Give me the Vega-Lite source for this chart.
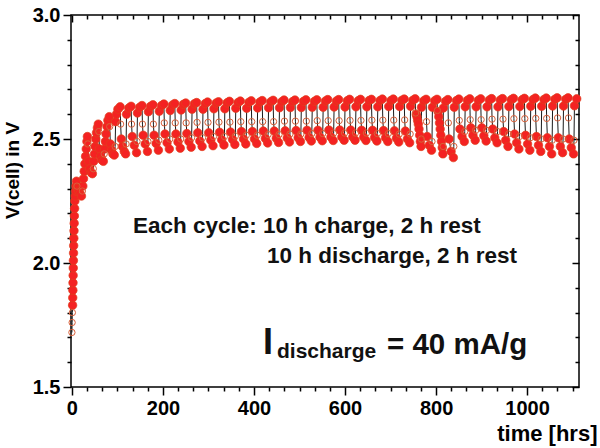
{
  "$schema": "https://vega.github.io/schema/vega-lite/v6.json",
  "width": 508,
  "height": 372,
  "autosize": {"type": "none"},
  "padding": {"left": 71, "top": 15, "right": 21, "bottom": 61},
  "background": "white",
  "config": {
    "view": {"stroke": "#000", "strokeWidth": 1.5},
    "font": "Liberation Sans",
    "axis": {
      "labelFont": "Liberation Sans",
      "labelFontWeight": "bold",
      "labelFontSize": 20,
      "labelColor": "#000",
      "titleFont": "Liberation Sans",
      "titleFontWeight": "bold",
      "titleColor": "#000",
      "tickColor": "#000",
      "tickWidth": 1.5,
      "domain": false,
      "grid": false,
      "labelFlush": false,
      "labelOverlap": false
    }
  },
  "data": {
    "values": [
      {"t":0,"v":1.72,"s":"r"},{"t":0.5,"v":1.76,"s":"r"},{"t":1,"v":1.8,"s":"r"},
      {"t":1.5,"v":1.83,"s":"c"},{"t":1.8,"v":1.86,"s":"c"},{"t":2.1,"v":1.89,"s":"c"},{"t":2.4,"v":1.92,"s":"c"},{"t":2.7,"v":1.95,"s":"c"},{"t":3,"v":1.98,"s":"c"},{"t":3.3,"v":2.01,"s":"c"},{"t":3.6,"v":2.04,"s":"c"},{"t":3.9,"v":2.07,"s":"c"},{"t":4.2,"v":2.1,"s":"c"},{"t":4.6,"v":2.13,"s":"c"},{"t":5,"v":2.16,"s":"c"},{"t":5.4,"v":2.19,"s":"c"},{"t":5.9,"v":2.22,"s":"c"},{"t":6.5,"v":2.25,"s":"c"},{"t":7.2,"v":2.27,"s":"c"},{"t":8,"v":2.29,"s":"c"},{"t":9,"v":2.31,"s":"c"},{"t":10,"v":2.33,"s":"c"},
      {"t":11,"v":2.31,"s":"r"},{"t":12.5,"v":2.3,"s":"d"},{"t":15,"v":2.29,"s":"d"},{"t":18,"v":2.28,"s":"d"},{"t":21,"v":2.27,"s":"d"},{"t":23,"v":2.29,"s":"r"},
      {"t":24,"v":2.31,"s":"c"},{"t":25.5,"v":2.34,"s":"c"},{"t":27,"v":2.37,"s":"c"},{"t":28.5,"v":2.4,"s":"c"},{"t":30,"v":2.43,"s":"c"},{"t":31.5,"v":2.46,"s":"c"},{"t":33,"v":2.49,"s":"c"},{"t":34,"v":2.51,"s":"c"},{"t":35,"v":2.48,"s":"r"},{"t":36.5,"v":2.41,"s":"d"},{"t":39,"v":2.38,"s":"d"},{"t":42,"v":2.365,"s":"d"},{"t":45,"v":2.36,"s":"d"},{"t":47,"v":2.38,"s":"r"},
      {"t":48,"v":2.41,"s":"c"},{"t":49.5,"v":2.44,"s":"c"},{"t":51,"v":2.47,"s":"c"},{"t":52.5,"v":2.5,"s":"c"},{"t":54,"v":2.525,"s":"c"},{"t":56,"v":2.545,"s":"c"},{"t":58,"v":2.56,"s":"c"},{"t":59,"v":2.53,"s":"r"},{"t":60.5,"v":2.46,"s":"d"},{"t":63,"v":2.43,"s":"d"},{"t":66,"v":2.415,"s":"d"},{"t":69,"v":2.41,"s":"d"},{"t":71,"v":2.44,"s":"r"},
      {"t":72,"v":2.46,"s":"c"},{"t":73.5,"v":2.49,"s":"c"},{"t":75,"v":2.52,"s":"c"},{"t":77,"v":2.55,"s":"c"},{"t":79,"v":2.575,"s":"c"},{"t":82,"v":2.59,"s":"c"},{"t":83,"v":2.55,"s":"r"},{"t":84.5,"v":2.48,"s":"d"},{"t":87,"v":2.455,"s":"d"},{"t":90,"v":2.44,"s":"d"},{"t":93,"v":2.435,"s":"d"},{"t":95,"v":2.47,"s":"r"},
      {"t":96,"v":2.57,"s":"c"},{"t":98,"v":2.6,"s":"c"},{"t":101,"v":2.62,"s":"c"},{"t":106,"v":2.63,"s":"c"},{"t":107,"v":2.56,"s":"r"},{"t":108.5,"v":2.5,"s":"d"},{"t":111,"v":2.47,"s":"d"},{"t":115,"v":2.45,"s":"d"},{"t":118,"v":2.44,"s":"d"},{"t":119,"v":2.48,"s":"r"},
      {"t":120,"v":2.6,"s":"c"},{"t":125,"v":2.625,"s":"c"},{"t":130,"v":2.632,"s":"c"},{"t":131,"v":2.56,"s":"r"},{"t":132.5,"v":2.51,"s":"d"},{"t":137,"v":2.475,"s":"d"},{"t":142,"v":2.445,"s":"d"},{"t":143,"v":2.49,"s":"r"},
      {"t":144,"v":2.605,"s":"c"},{"t":149,"v":2.628,"s":"c"},{"t":154,"v":2.635,"s":"c"},{"t":155,"v":2.56,"s":"r"},{"t":156.5,"v":2.515,"s":"d"},{"t":161,"v":2.48,"s":"d"},{"t":166,"v":2.45,"s":"d"},{"t":167,"v":2.49,"s":"r"},
      {"t":168,"v":2.61,"s":"c"},{"t":173,"v":2.632,"s":"c"},{"t":178,"v":2.638,"s":"c"},{"t":179,"v":2.56,"s":"r"},{"t":180.5,"v":2.515,"s":"d"},{"t":185,"v":2.482,"s":"d"},{"t":190,"v":2.455,"s":"d"},{"t":191,"v":2.495,"s":"r"},
      {"t":192,"v":2.612,"s":"c"},{"t":197,"v":2.635,"s":"c"},{"t":202,"v":2.641,"s":"c"},{"t":203,"v":2.565,"s":"r"},{"t":204.5,"v":2.52,"s":"d"},{"t":209,"v":2.485,"s":"d"},{"t":214,"v":2.46,"s":"d"},{"t":215,"v":2.5,"s":"r"},
      {"t":216,"v":2.615,"s":"c"},{"t":221,"v":2.637,"s":"c"},{"t":226,"v":2.643,"s":"c"},{"t":227,"v":2.565,"s":"r"},{"t":228.5,"v":2.52,"s":"d"},{"t":233,"v":2.488,"s":"d"},{"t":238,"v":2.463,"s":"d"},{"t":239,"v":2.5,"s":"r"},
      {"t":240,"v":2.617,"s":"c"},{"t":245,"v":2.64,"s":"c"},{"t":250,"v":2.645,"s":"c"},{"t":251,"v":2.565,"s":"r"},{"t":252.5,"v":2.522,"s":"d"},{"t":257,"v":2.49,"s":"d"},{"t":262,"v":2.467,"s":"d"},{"t":263,"v":2.505,"s":"r"},
      {"t":264,"v":2.62,"s":"c"},{"t":269,"v":2.642,"s":"c"},{"t":274,"v":2.647,"s":"c"},{"t":275,"v":2.567,"s":"r"},{"t":276.5,"v":2.525,"s":"d"},{"t":281,"v":2.492,"s":"d"},{"t":286,"v":2.47,"s":"d"},{"t":287,"v":2.505,"s":"r"},
      {"t":288,"v":2.62,"s":"c"},{"t":293,"v":2.643,"s":"c"},{"t":298,"v":2.649,"s":"c"},{"t":299,"v":2.567,"s":"r"},{"t":300.5,"v":2.525,"s":"d"},{"t":305,"v":2.495,"s":"d"},{"t":310,"v":2.473,"s":"d"},{"t":311,"v":2.51,"s":"r"},
      {"t":312,"v":2.622,"s":"c"},{"t":317,"v":2.645,"s":"c"},{"t":322,"v":2.65,"s":"c"},{"t":323,"v":2.568,"s":"r"},{"t":324.5,"v":2.527,"s":"d"},{"t":329,"v":2.497,"s":"d"},{"t":334,"v":2.476,"s":"d"},{"t":335,"v":2.51,"s":"r"},
      {"t":336,"v":2.622,"s":"c"},{"t":341,"v":2.646,"s":"c"},{"t":346,"v":2.652,"s":"c"},{"t":347,"v":2.568,"s":"r"},{"t":348.5,"v":2.528,"s":"d"},{"t":353,"v":2.498,"s":"d"},{"t":358,"v":2.478,"s":"d"},{"t":359,"v":2.512,"s":"r"},
      {"t":360,"v":2.624,"s":"c"},{"t":365,"v":2.647,"s":"c"},{"t":370,"v":2.653,"s":"c"},{"t":371,"v":2.57,"s":"r"},{"t":372.5,"v":2.53,"s":"d"},{"t":377,"v":2.5,"s":"d"},{"t":382,"v":2.48,"s":"d"},{"t":383,"v":2.515,"s":"r"},
      {"t":384,"v":2.624,"s":"c"},{"t":389,"v":2.648,"s":"c"},{"t":394,"v":2.654,"s":"c"},{"t":395,"v":2.57,"s":"r"},{"t":396.5,"v":2.53,"s":"d"},{"t":401,"v":2.5,"s":"d"},{"t":406,"v":2.482,"s":"d"},{"t":407,"v":2.515,"s":"r"},
      {"t":408,"v":2.625,"s":"c"},{"t":413,"v":2.649,"s":"c"},{"t":418,"v":2.655,"s":"c"},{"t":419,"v":2.57,"s":"r"},{"t":420.5,"v":2.532,"s":"d"},{"t":425,"v":2.502,"s":"d"},{"t":430,"v":2.484,"s":"d"},{"t":431,"v":2.518,"s":"r"},
      {"t":432,"v":2.626,"s":"c"},{"t":437,"v":2.65,"s":"c"},{"t":442,"v":2.656,"s":"c"},{"t":443,"v":2.57,"s":"r"},{"t":444.5,"v":2.532,"s":"d"},{"t":449,"v":2.503,"s":"d"},{"t":454,"v":2.486,"s":"d"},{"t":455,"v":2.518,"s":"r"},
      {"t":456,"v":2.626,"s":"c"},{"t":461,"v":2.65,"s":"c"},{"t":466,"v":2.657,"s":"c"},{"t":467,"v":2.572,"s":"r"},{"t":468.5,"v":2.533,"s":"d"},{"t":473,"v":2.504,"s":"d"},{"t":478,"v":2.488,"s":"d"},{"t":479,"v":2.52,"s":"r"},
      {"t":480,"v":2.627,"s":"c"},{"t":485,"v":2.651,"s":"c"},{"t":490,"v":2.657,"s":"c"},{"t":491,"v":2.572,"s":"r"},{"t":492.5,"v":2.534,"s":"d"},{"t":497,"v":2.505,"s":"d"},{"t":502,"v":2.49,"s":"d"},{"t":503,"v":2.52,"s":"r"},
      {"t":504,"v":2.627,"s":"c"},{"t":509,"v":2.652,"s":"c"},{"t":514,"v":2.658,"s":"c"},{"t":515,"v":2.572,"s":"r"},{"t":516.5,"v":2.535,"s":"d"},{"t":521,"v":2.506,"s":"d"},{"t":526,"v":2.492,"s":"d"},{"t":527,"v":2.522,"s":"r"},
      {"t":528,"v":2.628,"s":"c"},{"t":533,"v":2.652,"s":"c"},{"t":538,"v":2.658,"s":"c"},{"t":539,"v":2.574,"s":"r"},{"t":540.5,"v":2.535,"s":"d"},{"t":545,"v":2.507,"s":"d"},{"t":550,"v":2.493,"s":"d"},{"t":551,"v":2.522,"s":"r"},
      {"t":552,"v":2.628,"s":"c"},{"t":557,"v":2.653,"s":"c"},{"t":562,"v":2.659,"s":"c"},{"t":563,"v":2.574,"s":"r"},{"t":564.5,"v":2.536,"s":"d"},{"t":569,"v":2.508,"s":"d"},{"t":574,"v":2.494,"s":"d"},{"t":575,"v":2.524,"s":"r"},
      {"t":576,"v":2.629,"s":"c"},{"t":581,"v":2.653,"s":"c"},{"t":586,"v":2.659,"s":"c"},{"t":587,"v":2.574,"s":"r"},{"t":588.5,"v":2.536,"s":"d"},{"t":593,"v":2.508,"s":"d"},{"t":598,"v":2.495,"s":"d"},{"t":599,"v":2.524,"s":"r"},
      {"t":600,"v":2.629,"s":"c"},{"t":605,"v":2.654,"s":"c"},{"t":610,"v":2.66,"s":"c"},{"t":611,"v":2.575,"s":"r"},{"t":612.5,"v":2.536,"s":"d"},{"t":617,"v":2.508,"s":"d"},{"t":622,"v":2.495,"s":"d"},{"t":623,"v":2.524,"s":"r"},
      {"t":624,"v":2.63,"s":"c"},{"t":629,"v":2.654,"s":"c"},{"t":634,"v":2.66,"s":"c"},{"t":635,"v":2.575,"s":"r"},{"t":636.5,"v":2.535,"s":"d"},{"t":641,"v":2.507,"s":"d"},{"t":646,"v":2.494,"s":"d"},{"t":647,"v":2.524,"s":"r"},
      {"t":648,"v":2.63,"s":"c"},{"t":653,"v":2.655,"s":"c"},{"t":658,"v":2.66,"s":"c"},{"t":659,"v":2.576,"s":"r"},{"t":660.5,"v":2.535,"s":"d"},{"t":665,"v":2.506,"s":"d"},{"t":670,"v":2.492,"s":"d"},{"t":671,"v":2.522,"s":"r"},
      {"t":672,"v":2.63,"s":"c"},{"t":677,"v":2.655,"s":"c"},{"t":682,"v":2.661,"s":"c"},{"t":683,"v":2.576,"s":"r"},{"t":684.5,"v":2.534,"s":"d"},{"t":689,"v":2.505,"s":"d"},{"t":694,"v":2.49,"s":"d"},{"t":695,"v":2.522,"s":"r"},
      {"t":696,"v":2.631,"s":"c"},{"t":701,"v":2.655,"s":"c"},{"t":706,"v":2.661,"s":"c"},{"t":707,"v":2.576,"s":"r"},{"t":708.5,"v":2.533,"s":"d"},{"t":713,"v":2.503,"s":"d"},{"t":718,"v":2.488,"s":"d"},{"t":719,"v":2.52,"s":"r"},
      {"t":720,"v":2.631,"s":"c"},{"t":725,"v":2.656,"s":"c"},{"t":730,"v":2.661,"s":"c"},{"t":731,"v":2.577,"s":"r"},{"t":732.5,"v":2.532,"s":"d"},{"t":737,"v":2.5,"s":"d"},{"t":742,"v":2.485,"s":"d"},{"t":743,"v":2.52,"s":"r"},
      {"t":744,"v":2.632,"s":"c"},{"t":749,"v":2.656,"s":"c"},{"t":754,"v":2.662,"s":"c"},{"t":755,"v":2.605,"s":"r"},{"t":756.5,"v":2.6,"s":"d"},{"t":758,"v":2.59,"s":"d"},{"t":759.5,"v":2.575,"s":"d"},{"t":761,"v":2.56,"s":"d"},{"t":762.5,"v":2.54,"s":"d"},{"t":764,"v":2.515,"s":"d"},{"t":765.5,"v":2.49,"s":"d"},{"t":767,"v":2.47,"s":"d"},{"t":767.5,"v":2.5,"s":"r"},
      {"t":768,"v":2.628,"s":"c"},{"t":773,"v":2.654,"s":"c"},{"t":778,"v":2.66,"s":"c"},{"t":779,"v":2.57,"s":"r"},{"t":780.5,"v":2.51,"s":"d"},{"t":785,"v":2.475,"s":"d"},{"t":790,"v":2.455,"s":"d"},{"t":791,"v":2.49,"s":"r"},
      {"t":792,"v":2.628,"s":"c"},{"t":797,"v":2.654,"s":"c"},{"t":802,"v":2.66,"s":"c"},{"t":803,"v":2.615,"s":"r"},{"t":804.5,"v":2.61,"s":"d"},{"t":806,"v":2.59,"s":"d"},{"t":807.5,"v":2.565,"s":"d"},{"t":809,"v":2.54,"s":"d"},{"t":810.5,"v":2.515,"s":"d"},{"t":812,"v":2.49,"s":"d"},{"t":813.5,"v":2.465,"s":"d"},{"t":815,"v":2.44,"s":"d"},{"t":815.5,"v":2.47,"s":"r"},
      {"t":816,"v":2.625,"s":"c"},{"t":821,"v":2.652,"s":"c"},{"t":826,"v":2.659,"s":"c"},{"t":827,"v":2.565,"s":"r"},{"t":828.5,"v":2.5,"s":"d"},{"t":833,"v":2.45,"s":"d"},{"t":838,"v":2.425,"s":"d"},{"t":839,"v":2.47,"s":"r"},
      {"t":840,"v":2.628,"s":"c"},{"t":845,"v":2.655,"s":"c"},{"t":850,"v":2.661,"s":"c"},{"t":851,"v":2.575,"s":"r"},{"t":852.5,"v":2.54,"s":"d"},{"t":857,"v":2.51,"s":"d"},{"t":862,"v":2.49,"s":"d"},{"t":863,"v":2.53,"s":"r"},
      {"t":864,"v":2.63,"s":"c"},{"t":869,"v":2.656,"s":"c"},{"t":874,"v":2.662,"s":"c"},{"t":875,"v":2.578,"s":"r"},{"t":876.5,"v":2.545,"s":"d"},{"t":881,"v":2.515,"s":"d"},{"t":886,"v":2.495,"s":"d"},{"t":887,"v":2.535,"s":"r"},
      {"t":888,"v":2.63,"s":"c"},{"t":893,"v":2.656,"s":"c"},{"t":898,"v":2.662,"s":"c"},{"t":899,"v":2.578,"s":"r"},{"t":900.5,"v":2.545,"s":"d"},{"t":905,"v":2.513,"s":"d"},{"t":910,"v":2.492,"s":"d"},{"t":911,"v":2.535,"s":"r"},
      {"t":912,"v":2.63,"s":"c"},{"t":917,"v":2.657,"s":"c"},{"t":922,"v":2.663,"s":"c"},{"t":923,"v":2.58,"s":"r"},{"t":924.5,"v":2.54,"s":"d"},{"t":929,"v":2.505,"s":"d"},{"t":934,"v":2.485,"s":"d"},{"t":935,"v":2.53,"s":"r"},
      {"t":936,"v":2.63,"s":"c"},{"t":941,"v":2.657,"s":"c"},{"t":946,"v":2.663,"s":"c"},{"t":947,"v":2.58,"s":"r"},{"t":948.5,"v":2.53,"s":"d"},{"t":953,"v":2.495,"s":"d"},{"t":958,"v":2.47,"s":"d"},{"t":959,"v":2.52,"s":"r"},
      {"t":960,"v":2.631,"s":"c"},{"t":965,"v":2.658,"s":"c"},{"t":970,"v":2.664,"s":"c"},{"t":971,"v":2.582,"s":"r"},{"t":972.5,"v":2.52,"s":"d"},{"t":977,"v":2.485,"s":"d"},{"t":982,"v":2.46,"s":"d"},{"t":983,"v":2.51,"s":"r"},
      {"t":984,"v":2.631,"s":"c"},{"t":989,"v":2.658,"s":"c"},{"t":994,"v":2.664,"s":"c"},{"t":995,"v":2.582,"s":"r"},{"t":996.5,"v":2.515,"s":"d"},{"t":1001,"v":2.48,"s":"d"},{"t":1006,"v":2.455,"s":"d"},{"t":1007,"v":2.505,"s":"r"},
      {"t":1008,"v":2.632,"s":"c"},{"t":1013,"v":2.659,"s":"c"},{"t":1018,"v":2.665,"s":"c"},{"t":1019,"v":2.583,"s":"r"},{"t":1020.5,"v":2.51,"s":"d"},{"t":1025,"v":2.475,"s":"d"},{"t":1030,"v":2.45,"s":"d"},{"t":1031,"v":2.5,"s":"r"},
      {"t":1032,"v":2.632,"s":"c"},{"t":1037,"v":2.659,"s":"c"},{"t":1042,"v":2.665,"s":"c"},{"t":1043,"v":2.583,"s":"r"},{"t":1044.5,"v":2.505,"s":"d"},{"t":1049,"v":2.47,"s":"d"},{"t":1054,"v":2.44,"s":"d"},{"t":1055,"v":2.495,"s":"r"},
      {"t":1056,"v":2.633,"s":"c"},{"t":1061,"v":2.66,"s":"c"},{"t":1066,"v":2.666,"s":"c"},{"t":1067,"v":2.585,"s":"r"},{"t":1068.5,"v":2.505,"s":"d"},{"t":1073,"v":2.47,"s":"d"},{"t":1078,"v":2.445,"s":"d"},{"t":1079,"v":2.5,"s":"r"},
      {"t":1080,"v":2.633,"s":"c"},{"t":1085,"v":2.66,"s":"c"},{"t":1090,"v":2.666,"s":"c"},{"t":1091,"v":2.585,"s":"r"},{"t":1092.5,"v":2.5,"s":"d"},{"t":1097,"v":2.465,"s":"d"},{"t":1102,"v":2.44,"s":"d"},{"t":1103,"v":2.495,"s":"r"},
      {"t":1104,"v":2.634,"s":"c"},{"t":1109,"v":2.662,"s":"c"}
    ]
  },
  "layer": [
    {
      "mark": {"type": "line", "color": "#1a1a1a", "strokeWidth": 1},
      "encoding": {
        "x": {
          "field": "t",
          "type": "quantitative",
          "scale": {"domain": [-2, 1114], "nice": false, "zero": false},
          "axis": {
            "orient": "bottom",
            "values": [0,33.33,66.67,100,133.33,166.67,200,233.33,266.67,300,333.33,366.67,400,433.33,466.67,500,533.33,566.67,600,633.33,666.67,700,733.33,766.67,800,833.33,866.67,900,933.33,966.67,1000,1033.33,1066.67,1100],
            "format": "d",
            "labelExpr": "datum.value % 200 === 0 ? datum.label : ''",
            "tickSize": {"condition": {"test": "datum.value % 200 === 0", "value": 8}, "value": 4},
            "labelPadding": 3,
            "title": "time [hrs]",
            "titleFontSize": 22,
            "titleAnchor": "end",
            "titleAlign": "right",
            "titleBaseline": "alphabetic",
            "titleX": 526,
            "titleY": 53
          }
        },
        "y": {
          "field": "v",
          "type": "quantitative",
          "scale": {"domain": [1.5, 3.0], "nice": false, "zero": false},
          "axis": {
            "orient": "left",
            "values": [1.5,1.6,1.7,1.8,1.9,2.0,2.1,2.2,2.3,2.4,2.5,2.6,2.7,2.8,2.9,3.0],
            "labelExpr": "abs(datum.value*2 - round(datum.value*2)) < 0.01 ? format(datum.value, '.1f') : ''",
            "tickSize": {"condition": {"test": "abs(datum.value*2 - round(datum.value*2)) < 0.01", "value": 8}, "value": 4},
            "labelPadding": 3,
            "title": "V(cell) in V",
            "titleFontSize": 19,
            "titleFontWeight": "bold",
            "titleAngle": -90,
            "titleAlign": "center",
            "titleBaseline": "alphabetic",
            "titleX": -53,
            "titleY": 155
          }
        }
      }
    },
    {
      "transform": [{"filter": "datum.s !== 'r'"}],
      "mark": {"type": "point", "shape": "circle", "filled": true, "fill": "#f42222", "stroke": "#e0401e", "strokeWidth": 0.7, "opacity": 1, "size": 72},
      "encoding": {
        "x": {
          "field": "t",
          "type": "quantitative",
          "axis": {
            "orient": "top",
            "values": [0,33.33,66.67,100,133.33,166.67,200,233.33,266.67,300,333.33,366.67,400,433.33,466.67,500,533.33,566.67,600,633.33,666.67,700,733.33,766.67,800,833.33,866.67,900,933.33,966.67,1000,1033.33,1066.67,1100],
            "labels": false,
            "title": null,
            "tickSize": {"condition": {"test": "datum.value % 200 === 0", "value": -7}, "value": -4}
          }
        },
        "y": {
          "field": "v",
          "type": "quantitative",
          "axis": {
            "orient": "right",
            "values": [1.5,1.6,1.7,1.8,1.9,2.0,2.1,2.2,2.3,2.4,2.5,2.6,2.7,2.8,2.9,3.0],
            "labels": false,
            "title": null,
            "tickSize": {"condition": {"test": "abs(datum.value*2 - round(datum.value*2)) < 0.01", "value": -7}, "value": -4}
          }
        }
      }
    },
    {
      "transform": [{"filter": "datum.s === 'r'"}],
      "mark": {"type": "point", "shape": "circle", "filled": false, "stroke": "#d8603a", "strokeWidth": 1, "opacity": 1, "size": 40},
      "encoding": {
        "x": {"field": "t", "type": "quantitative", "axis": null},
        "y": {"field": "v", "type": "quantitative", "axis": null}
      }
    },
    {
      "data": {"values": [{}]},
      "mark": {"type": "text", "align": "left", "baseline": "alphabetic", "font": "Liberation Sans", "fontWeight": "bold", "fontSize": 22.5, "color": "#111"},
      "encoding": {
        "x": {"datum": 134.2, "type": "quantitative", "axis": null},
        "y": {"datum": 2.121, "type": "quantitative", "axis": null},
        "text": {"value": "Each cycle: 10 h charge, 2 h rest"}
      }
    },
    {
      "data": {"values": [{}]},
      "mark": {"type": "text", "align": "left", "baseline": "alphabetic", "font": "Liberation Sans", "fontWeight": "bold", "fontSize": 22.5, "color": "#111"},
      "encoding": {
        "x": {"datum": 428.6, "type": "quantitative", "axis": null},
        "y": {"datum": 2.0, "type": "quantitative", "axis": null},
        "text": {"value": "10 h discharge, 2 h rest"}
      }
    },
    {
      "data": {"values": [{}]},
      "mark": {"type": "text", "align": "left", "baseline": "alphabetic", "font": "Liberation Sans", "fontWeight": "bold", "fontSize": 36, "color": "#111"},
      "encoding": {
        "x": {"datum": 419.8, "type": "quantitative", "axis": null},
        "y": {"datum": 1.633, "type": "quantitative", "axis": null},
        "text": {"value": "I"}
      }
    },
    {
      "data": {"values": [{}]},
      "mark": {"type": "text", "align": "left", "baseline": "alphabetic", "font": "Liberation Sans", "fontWeight": "bold", "fontSize": 21, "color": "#111"},
      "encoding": {
        "x": {"datum": 450.5, "type": "quantitative", "axis": null},
        "y": {"datum": 1.615, "type": "quantitative", "axis": null},
        "text": {"value": "discharge"}
      }
    },
    {
      "data": {"values": [{}]},
      "mark": {"type": "text", "align": "left", "baseline": "alphabetic", "font": "Liberation Sans", "fontWeight": "bold", "fontSize": 29.5, "color": "#111"},
      "encoding": {
        "x": {"datum": 692.2, "type": "quantitative", "axis": null},
        "y": {"datum": 1.633, "type": "quantitative", "axis": null},
        "text": {"value": "= 40 mA/g"}
      }
    }
  ],
  "resolve": {"axis": {"x": "independent", "y": "independent"}}
}
